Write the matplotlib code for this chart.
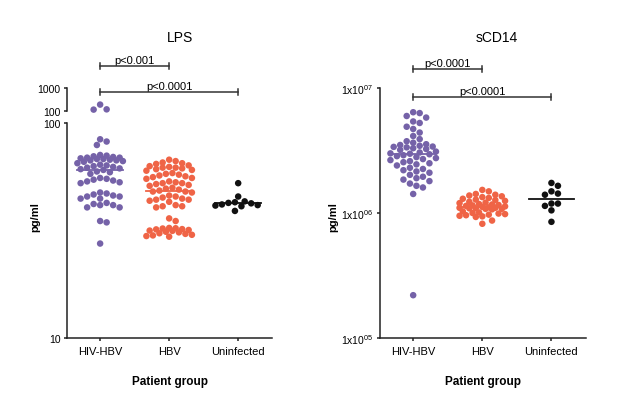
import numpy as np
import matplotlib
matplotlib.use('Agg')
import matplotlib.pyplot as plt
from matplotlib.transforms import blended_transform_factory

plt.rcParams['font.family'] = ['Liberation Sans', 'DejaVu Sans']
plt.rcParams['mathtext.default'] = 'regular'

groups = ['HIV-HBV', 'HBV', 'Uninfected']
colors = ['#7562a8', '#ef6446', '#111111']

# LPS (pg/ml)
lps_hiv_hbv = [190, 118, 115, 82, 79, 84,
               70, 69, 68, 68.5, 67, 70.5, 69, 67.5, 66, 68, 71, 66.5, 67, 69.5, 65,
               64, 63, 62, 61.5, 61, 60.5, 59.5, 59, 62.5, 63.5, 58,
               55, 54, 53.5, 52.5, 53, 54.5, 55.5,
               47, 46.5, 45.5, 44.5, 44.5, 45.5, 46, 47.5,
               42, 41.5, 40.5, 40.5, 41.5, 42.5,
               35, 34.5, 27.5]
lps_hbv = [67.5, 66.5, 65.5, 64.5, 65,
           63, 62.5, 62, 61, 60.5, 61.5, 62, 63.5, 60,
           58, 57.5, 56.5, 56, 55, 55.5, 57, 58.5,
           53, 52.5, 52, 51, 51.5, 52.5, 53.5,
           49, 48.5, 48, 47.5, 48, 49.5, 50,
           45, 44.5, 44, 43.5, 43, 44, 45.5, 46,
           41.5, 41, 40.5, 41,
           36, 35,
           32.5, 32.3, 32, 31.8, 31.5, 31.2, 31, 30.7, 30.5, 30.2, 30, 29.8,
           32.4, 32.1, 31.6, 29.6]
lps_uninf = [52.5, 45.5, 42.8, 42.3, 41.5, 41.0, 41.3, 41.8, 42.5, 43.2, 39.0]

# sCD14 (pg/ml)
scd14_hiv_hbv = [6.4e6, 6.3e6, 5.97e6, 5.8e6, 5.4e6, 5.25e6, 4.9e6, 4.7e6, 4.4e6, 4.13e6,
                 3.9e6, 3.75e6, 3.65e6,
                 3.55e6, 3.5e6, 3.45e6, 3.4e6, 3.38e6, 3.35e6, 3.3e6, 3.25e6, 3.2e6,
                 3.1e6, 3.05e6, 3.0e6, 2.98e6, 2.95e6, 2.9e6,
                 2.85e6, 2.8e6, 2.75e6, 2.7e6, 2.65e6, 2.6e6, 2.55e6, 2.5e6, 2.45e6,
                 2.4e6, 2.3e6, 2.25e6, 2.2e6, 2.15e6, 2.1e6,
                 2.02e6, 1.95e6, 1.9e6, 1.85e6, 1.8e6, 1.72e6, 1.65e6, 1.6e6,
                 1.42e6, 2.2e5]
scd14_hbv = [1.53e6, 1.49e6,
             1.42e6, 1.40e6, 1.38e6, 1.36e6, 1.34e6, 1.32e6, 1.30e6, 1.28e6, 1.27e6,
             1.25e6, 1.23e6, 1.21e6, 1.20e6, 1.18e6,
             1.17e6, 1.16e6, 1.15e6, 1.14e6, 1.13e6, 1.12e6, 1.11e6, 1.10e6, 1.10e6,
             1.09e6, 1.09e6, 1.08e6, 1.08e6, 1.07e6,
             1.03e6, 1.01e6, 1.00e6, 0.99e6, 0.98e6, 0.97e6, 0.96e6, 0.95e6, 0.94e6, 0.93e6,
             0.87e6, 0.82e6]
scd14_uninf = [1.74e6, 1.65e6, 1.49e6, 1.40e6, 1.43e6, 1.19e6, 1.14e6, 1.05e6, 1.19e6, 8.5e5]

W, H = 629, 414
DIAM = 6.5  # dot diameter in pixels


def swarm(ax, x0, values, max_half=24):
    values = np.asarray(values, dtype=float)
    pts = np.column_stack([np.full(len(values), x0), values])
    y_px = ax.transData.transform(pts)[:, 1]
    ppu = ax.transData.transform([(1, 1)])[0, 0] - ax.transData.transform([(0, 1)])[0, 0]
    step = DIAM / 2
    placed = []
    dx = np.zeros(len(values))
    for i in np.argsort(-values):
        y = y_px[i]
        cands = [0.0]
        for k in range(1, 30):
            cands += [k * step, -k * step]
        cands = [c for c in cands if abs(c) <= max_half]
        best, best_d = None, -1
        for c in cands:
            d = min([np.hypot(c - px, y - py) for px, py in placed] + [99])
            if d >= DIAM:
                best = c
                break
            if d > best_d:
                best, best_d = c, d
        placed.append((best, y))
        dx[i] = best
    return x0 + dx / ppu


def style(ax):
    ax.patch.set_visible(False)
    for s in ['top', 'right']:
        ax.spines[s].set_visible(False)
    for s in ['left', 'bottom']:
        ax.spines[s].set_linewidth(1.1)
        ax.spines[s].set_color('#222222')
    ax.tick_params(length=2.5, width=1.1, pad=2, labelsize=7.5, color='#222222')
    ax.minorticks_off()


def bracket(ax, x1, x2, y, text):
    trans = blended_transform_factory(ax.transData, ax.transAxes)
    h = 3.0 / (ax.get_position().height * H)
    ax.plot([x1, x2], [y, y], transform=trans, color='#333333', lw=1.1, clip_on=False,
            zorder=5)
    for x in (x1, x2):
        ax.plot([x, x], [y - h, y + h], transform=trans, color='#333333', lw=1.1,
                clip_on=False, zorder=5)
    ax.text((x1 + x2) / 2, y + 0.3 * h, text, transform=trans, ha='center', va='bottom',
            fontsize=8)


fig = plt.figure(figsize=(W / 100, H / 100), dpi=100)

# ---- LPS (broken axis) ----
ax_lo = fig.add_axes([67 / W, 1 - 339 / H, 205 / W, 215 / H])
ax_hi = fig.add_axes([67 / W, 1 - 112 / H, 205 / W, 23 / H])
for ax, lim in ((ax_lo, (10, 100)), (ax_hi, (100, 1000))):
    ax.set_yscale('log')
    ax.set_ylim(*lim)
    ax.set_xlim(-0.48, 2.49)
    style(ax)
ax_lo.set_yticks([10, 100], ['10', '100'])
ax_hi.set_yticks([100, 1000], ['100', '1000'])
ax_hi.spines['bottom'].set_visible(False)
ax_hi.set_xticks([])
ax_lo.set_xticks(range(3), groups, fontsize=8)
ax_lo.tick_params(axis='x', pad=3)

for i, (vals, c) in enumerate(zip([lps_hiv_hbv, lps_hbv, lps_uninf], colors)):
    vals = np.asarray(vals, dtype=float)
    lo = vals[vals <= 100]
    hi = vals[vals > 100]
    ax_lo.scatter(swarm(ax_lo, i, lo), lo, s=22, color=c, edgecolors='none',
                  clip_on=False, zorder=3)
    if len(hi):
        ax_hi.scatter(swarm(ax_hi, i, hi), hi, s=22, color=c, edgecolors='none',
                      clip_on=False, zorder=3)
    med = np.median(vals)
    ax_lo.plot([i - 0.33, i + 0.33], [med, med], color=c, lw=1.3, zorder=4)

ax_lo.set_xlabel('Patient group', fontsize=8.5, fontweight='bold', labelpad=14)
bracket(ax_lo, 0, 1, (339 - 67) / 215, 'p<0.001')
bracket(ax_lo, 0, 2, (339 - 93) / 215, 'p<0.0001')
fig.text(180 / W, 1 - 38 / H, 'LPS', ha='center', va='center', fontsize=10)
fig.text(35 / W, 1 - 217 / H, 'pg/ml', ha='center', va='center', rotation=90,
         fontsize=8, fontweight='bold')

# ---- sCD14 ----
ax2 = fig.add_axes([380 / W, 1 - 339 / H, 206 / W, 250 / H])
ax2.set_yscale('log')
ax2.set_ylim(1e5, 1e7)
ax2.set_xlim(-0.48, 2.5)
style(ax2)
ax2.set_yticks([1e5, 1e6, 1e7], [r'1x10$^{05}$', r'1x10$^{06}$', r'1x10$^{07}$'])
ax2.set_xticks(range(3), groups, fontsize=8)
ax2.tick_params(axis='x', pad=3)

for i, (vals, c) in enumerate(zip([scd14_hiv_hbv, scd14_hbv, scd14_uninf], colors)):
    vals = np.asarray(vals, dtype=float)
    ax2.scatter(swarm(ax2, i, vals), vals, s=22, color=c, edgecolors='none',
                clip_on=False, zorder=3)
    med = np.median(vals)
    ax2.plot([i - 0.33, i + 0.33], [med, med], color=c, lw=1.3, zorder=4)

ax2.set_xlabel('Patient group', fontsize=8.5, fontweight='bold', labelpad=14)
bracket(ax2, 0, 1, (339 - 70) / 250, 'p<0.0001')
bracket(ax2, 0, 2, (339 - 98) / 250, 'p<0.0001')
fig.text(497 / W, 1 - 38 / H, 'sCD14', ha='center', va='center', fontsize=10)
fig.text(333 / W, 1 - 217 / H, 'pg/ml', ha='center', va='center', rotation=90,
         fontsize=8, fontweight='bold')

fig.savefig('out.png', dpi=100)
